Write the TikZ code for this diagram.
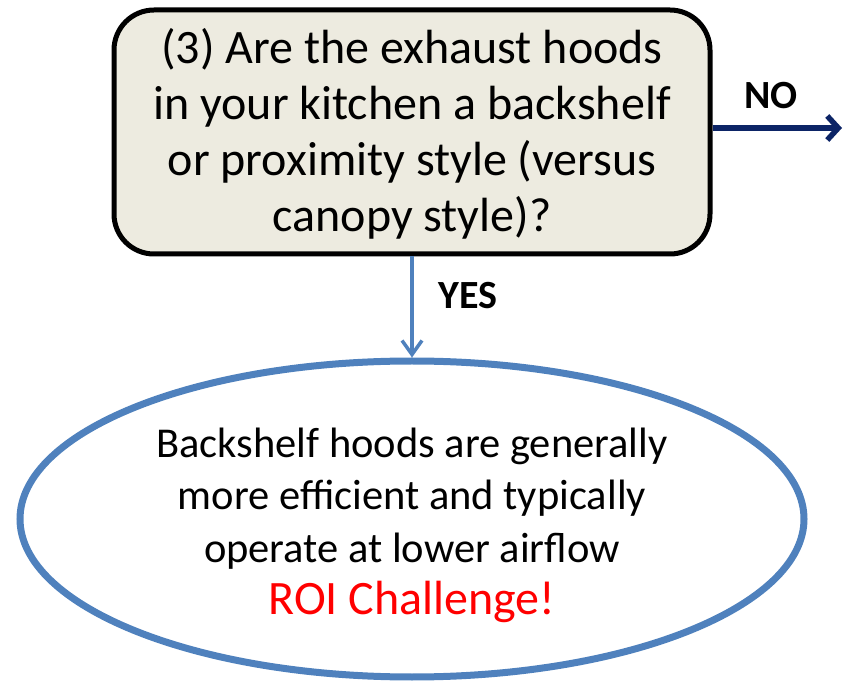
\documentclass[tikz,border=0pt]{standalone}
\usepackage{fontspec}
\setmainfont{Carlito}
\usetikzlibrary{shapes.geometric,arrows.meta}
\definecolor{boxfill}{HTML}{EDEBE0}
\definecolor{navy}{HTML}{0C2466}
\definecolor{steel}{HTML}{4F81BD}
\begin{document}
\begin{tikzpicture}[x=1pt,y=-1pt,
  question/.style={draw=black,line width=5pt,fill=boxfill,rounded corners=40pt,
    minimum width=596pt,minimum height=244pt,inner sep=0pt},
  questiontext/.style={inner sep=0pt,align=center,font=\fontsize{48}{56}\selectfont},
  outcome/.style={ellipse,draw=steel,line width=7pt,minimum width=784pt,
    minimum height=316pt,inner sep=0pt},
  outcometext/.style={inner sep=0pt,align=center,font=\fontsize{42.5}{52.5}\selectfont},
  answer/.style={font=\fontsize{40}{44}\selectfont\bfseries},
  noline/.style={draw=navy,line width=5.5pt,-{Straight Barb[length=11pt,width=24pt]}},
  yesline/.style={draw=steel,line width=3.5pt,-{Straight Barb[length=14pt,width=20pt]}}]
\useasboundingbox (0,0) rectangle (844,684);
% question box and its text
\node[question] (q) at (412,132) {};
\node[questiontext] (qtext) at (412,134)
  {(3) Are the exhaust hoods\\in your kitchen a backshelf\\or proximity style (versus\\canopy style)?};
% outcome ellipse and its text
\node[outcome] (e) at (412,519) {};
\node[outcometext] (etext) at (412,525.5)
  {Backshelf hoods are generally\\more efficient and typically\\operate at lower airflow\\{\color{red}\fontsize{48}{55}\selectfont ROI Challenge!}};
% connectors
\coordinate (noend) at (842,128);
\draw[noline] ([yshift=4pt]q.east) -- (noend);
\draw[yesline] (q.south) -- (e.north);
\node[answer] (nolabel) at (771,96) {NO};
\node[answer] (yeslabel) at (468,296) {YES};
\end{tikzpicture}
\end{document}
